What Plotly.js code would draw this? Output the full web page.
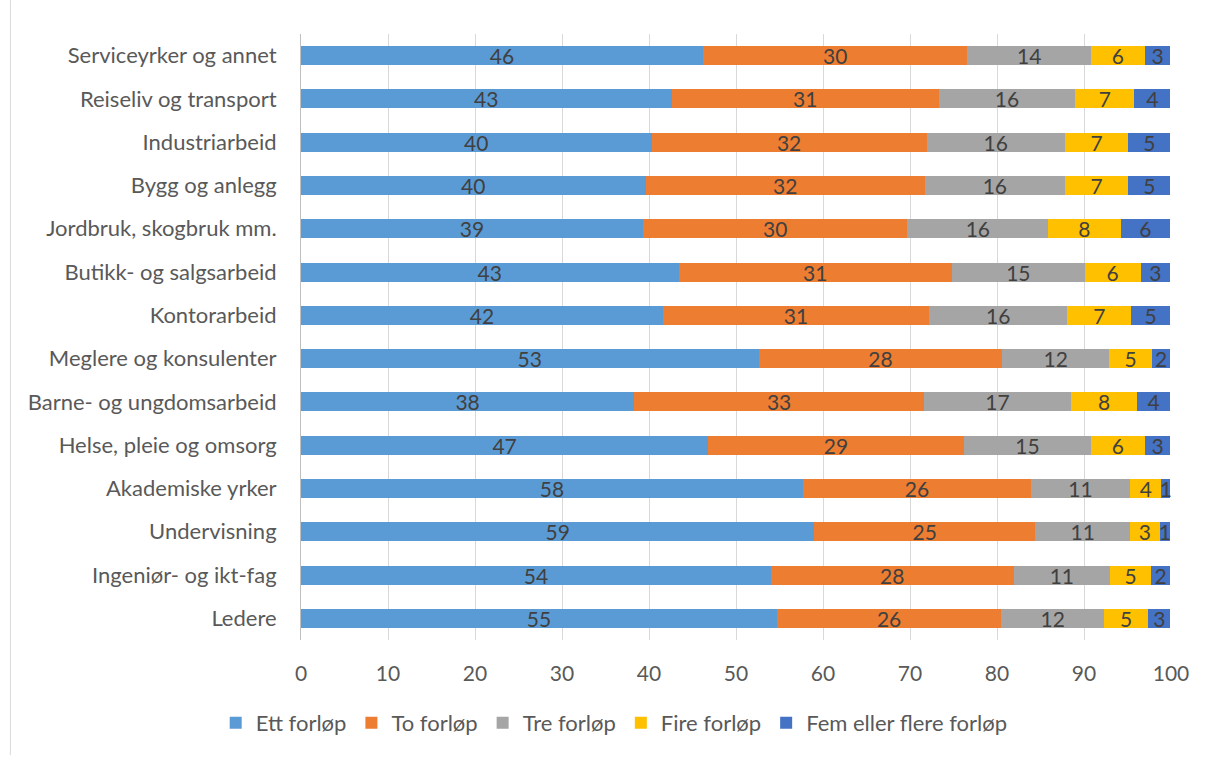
<!DOCTYPE html>
<html>
<head>
<meta charset="utf-8">
<script src="https://cdn.plot.ly/plotly-3.0.1.min.js"></script>
<style>html,body{margin:0;padding:0;background:#fff;}#chart{width:1215px;height:758px;}</style>
</head>
<body>
<div id="chart"></div>
<script>
const categories = [
  "Serviceyrker og annet",
  "Reiseliv og transport",
  "Industriarbeid",
  "Bygg og anlegg",
  "Jordbruk, skogbruk mm.",
  "Butikk- og salgsarbeid",
  "Kontorarbeid",
  "Meglere og konsulenter",
  "Barne- og ungdomsarbeid",
  "Helse, pleie og omsorg",
  "Akademiske yrker",
  "Undervisning",
  "Ingeniør- og ikt-fag",
  "Ledere"
];
const seriesNames = ["Ett forløp", "To forløp", "Tre forløp", "Fire forløp", "Fem eller flere forløp"];
const ett  = [46.2, 42.6, 40.3, 39.6, 39.3, 43.4, 41.6, 52.6, 38.3, 46.8, 57.7, 59.0, 54.0, 54.7];
const to   = [30.4, 30.7, 31.6, 32.1, 30.4, 31.4, 30.6, 28.0, 33.3, 29.4, 26.2, 25.4, 27.9, 25.8];
const tre  = [14.2, 15.7, 15.9, 16.1, 16.2, 15.3, 15.9, 12.3, 16.9, 14.6, 11.4, 10.9, 11.1, 11.8];
const fire = [6.2, 6.8, 7.3, 7.3, 8.3, 6.4, 7.3, 4.9, 7.6, 6.2, 3.6, 3.4, 4.7, 5.1];
const fem  = [2.9, 4.1, 4.8, 4.8, 5.7, 3.4, 4.5, 2.1, 3.8, 2.9, 1.0, 1.2, 2.2, 2.5];
const xTicks = [0, 10, 20, 30, 40, 50, 60, 70, 80, 90, 100];

const colors = ["#5B9BD5", "#ED7D31", "#A5A5A5", "#FFC000", "#4472C4"];
const FONT = "Lato, 'Open Sans', sans-serif";
const allSeries = [ett, to, tre, fire, fem];

const traces = allSeries.map((vals, i) => ({
  type: "bar",
  orientation: "h",
  name: seriesNames[i],
  y: categories,
  x: vals,
  marker: {color: colors[i], line: {width: 0}},
  text: vals.map(v => String(Math.round(v))),
  texttemplate: "%{text}",
  textposition: "inside",
  insidetextanchor: "middle",
  textangle: 0,
  constraintext: "none",
  cliponaxis: false,
  textfont: {family: FONT, size: 21, color: "#404040"},
  hoverinfo: "name+x"
}));

const layout = {
  width: 1215,
  height: 758,
  barmode: "stack",
  bargap: 0.56,
  paper_bgcolor: "#ffffff",
  plot_bgcolor: "#ffffff",
  margin: {l: 301, r: 44, t: 34, b: 118},
  font: {family: FONT, size: 21, color: "#595959"},
  uniformtext: {mode: "show", minsize: 21},
  xaxis: {
    range: [0, 100],
    tickvals: xTicks,
    ticktext: xTicks.map(String),
    showgrid: true,
    gridcolor: "#D9D9D9",
    gridwidth: 1,
    zeroline: false,
    showline: false,
    ticks: "outside",
    ticklen: 15,
    tickcolor: "rgba(0,0,0,0)",
    tickfont: {family: FONT, size: 21, color: "#595959"},
    fixedrange: true
  },
  yaxis: {
    autorange: "reversed",
    showline: true,
    linecolor: "#BFBFBF",
    linewidth: 1,
    showgrid: false,
    ticks: "outside",
    ticklen: 19,
    tickcolor: "rgba(0,0,0,0)",
    tickfont: {family: FONT, size: 22, color: "#595959"},
    fixedrange: true
  },
  legend: {
    orientation: "h",
    x: 0.36,
    xanchor: "center",
    y: -0.137,
    yanchor: "middle",
    font: {family: FONT, size: 22, color: "#595959"},
    traceorder: "normal",
    itemclick: false
  },
  shapes: [{
    type: "line", xref: "paper", yref: "paper",
    x0: -0.334, x1: -0.334, y0: -0.19, y1: 1.056,
    line: {color: "#D9D9D9", width: 1}
  }],
  showlegend: true
};

Plotly.newPlot("chart", traces, layout, {displayModeBar: false, staticPlot: false});
</script>
</body>
</html>
